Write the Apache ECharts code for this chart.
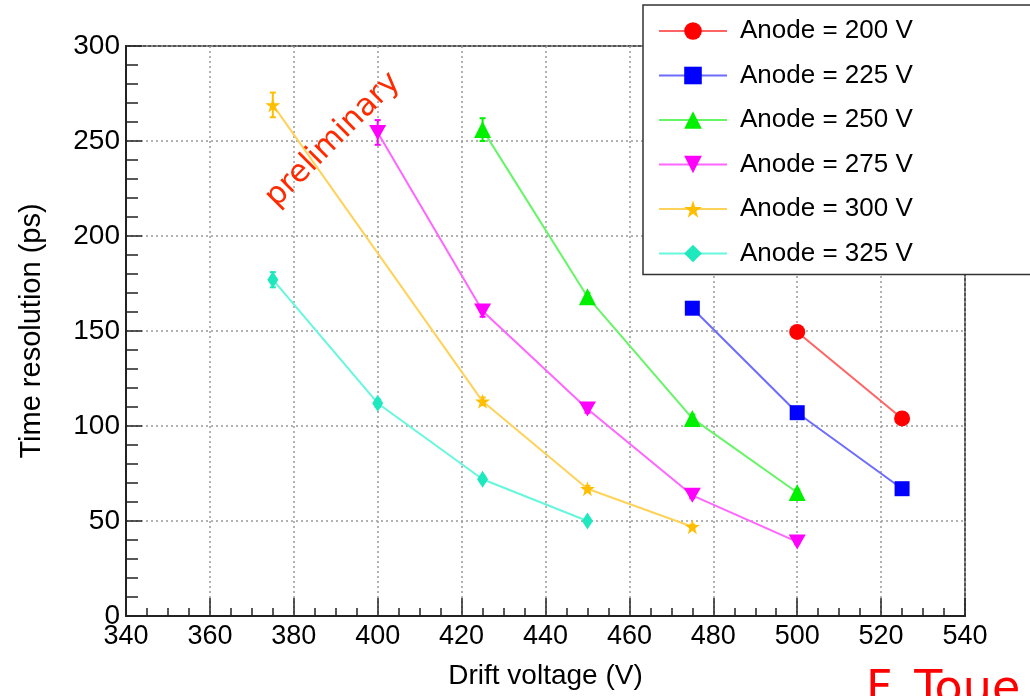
<!DOCTYPE html>
<html>
<head>
<meta charset="utf-8">
<script src="https://cdn.jsdelivr.net/npm/echarts@6/dist/echarts.min.js"></script>
<style>
  html, body { margin: 0; padding: 0; background: #fff; }
  #main { width: 1030px; height: 696px; }
</style>
</head>
<body>
<div id="main"></div>
<script>
// drift voltage (V) / time resolution (ps) / error, one set per anode voltage
let volt200 = [500, 525];
let res200 = [149.5, 104];
let err200 = [1.5, 1.5];

let volt225 = [475, 500, 525];
let res225 = [162, 107, 67];
let err225 = [2, 2, 1.5];

let volt250 = [425, 450, 475, 500];
let res250 = [256, 168, 104, 65];
let err250 = [6, 2, 2, 1.5];

let volt275 = [400, 425, 450, 475, 500];
let res275 = [254.5, 160.5, 109, 63.5, 39];
let err275 = [6.5, 3, 2, 1.5, 1];

let volt300 = [375, 425, 450, 475];
let res300 = [269, 113, 67, 47];
let err300 = [6.5, 2, 1.5, 1];

let volt325 = [375, 400, 425, 450];
let res325 = [177, 112, 72, 50];
let err325 = [4, 2, 1.5, 1];

let xTicks = [340, 360, 380, 400, 420, 440, 460, 480, 500, 520, 540];
let yTicks = [0, 50, 100, 150, 200, 250, 300];

let names = ['Anode = 200 V', 'Anode = 225 V', 'Anode = 250 V', 'Anode = 275 V', 'Anode = 300 V', 'Anode = 325 V'];

let STAR = 'path://M50,0 L61,35 L98,35 L68,57 L79,91 L50,70 L21,91 L32,57 L2,35 L39,35 Z';
let DOWN = 'path://M0,0 L100,0 L50,87 Z';

let sets = [
    {x: volt200, y: res200, e: err200, mark: '#ff0000', line: '#ff6464', symbol: 'circle', size: 16},
    {x: volt225, y: res225, e: err225, mark: '#0000ff', line: '#6c6cff', symbol: 'rect', size: 15},
    {x: volt250, y: res250, e: err250, mark: '#00f000', line: '#66f566', symbol: 'triangle', size: 17},
    {x: volt275, y: res275, e: err275, mark: '#ff00ff', line: '#ff66ff', symbol: DOWN, size: [17, 15]},
    {x: volt300, y: res300, e: err300, mark: '#ffbf00', line: '#ffd25a', symbol: STAR, size: 15},
    {x: volt325, y: res325, e: err325, mark: '#1ee8bd', line: '#66f7dd', symbol: 'diamond', size: [11, 17]}
];

function pairs(xs, ys) {
    let out = [];
    for (let i = 0; i < xs.length; i++) out.push([xs[i], ys[i]]);
    return out;
}

let series = [];
let errData = [];
sets.forEach(function (s, k) {
    for (let i = 0; i < s.x.length; i++) {
        errData.push([s.x[i], s.y[i] - s.e[i], s.y[i] + s.e[i], k]);
    }
});

// error bars under the markers
series.push({
    type: 'custom',
    name: 'errors',
    z: 1,
    silent: true,
    data: errData,
    renderItem: function (params, api) {
        let lo = api.coord([api.value(0), api.value(1)]);
        let hi = api.coord([api.value(0), api.value(2)]);
        let c = sets[api.value(3)].mark;
        let st = {stroke: c, lineWidth: 2};
        return {
            type: 'group',
            children: [
                {type: 'line', shape: {x1: lo[0], y1: lo[1], x2: hi[0], y2: hi[1]}, style: st},
                {type: 'line', shape: {x1: lo[0] - 3, y1: lo[1], x2: lo[0] + 3, y2: lo[1]}, style: st},
                {type: 'line', shape: {x1: hi[0] - 3, y1: hi[1], x2: hi[0] + 3, y2: hi[1]}, style: st}
            ]
        };
    }
});

sets.forEach(function (s, k) {
    series.push({
        name: names[k],
        type: 'line',
        z: 3,
        data: pairs(s.x, s.y),
        symbol: s.symbol,
        symbolSize: s.size,
        showAllSymbol: true,
        lineStyle: {color: s.line, width: 2},
        itemStyle: {color: s.mark, borderWidth: 0},
        emphasis: {disabled: true},
        animation: false
    });
});

let myChart = echarts.init(document.getElementById('main'));

let option = {
    animation: false,
    backgroundColor: '#fff',
    color: sets.map(function (s) { return s.mark; }),
    grid: {
        left: 126,
        right: 65,
        top: 46,
        bottom: 80,
        show: true,
        borderColor: '#555',
        borderWidth: 2,
        backgroundColor: 'transparent'
    },
    legend: {
        data: names,
        orient: 'vertical',
        left: 643,
        top: 5,
        padding: [11, 120, 6, 15],
        itemWidth: 68,
        itemHeight: 22,
        itemGap: 14.5,
        backgroundColor: '#fff',
        borderColor: '#333',
        borderWidth: 1.5,
        selectedMode: false,
        textStyle: {
            fontFamily: 'Liberation Sans',
            fontSize: 26,
            color: '#000',
            lineHeight: 30,
            padding: [0, 0, 0, 8]
        }
    },
    xAxis: {
        type: 'value',
        min: xTicks[0],
        max: xTicks[xTicks.length - 1],
        interval: xTicks[1] - xTicks[0],
        name: 'Drift voltage (V)',
        nameLocation: 'middle',
        nameGap: 46,
        nameTextStyle: {fontFamily: 'Liberation Sans', fontSize: 28, color: '#000'},
        axisLine: {lineStyle: {color: '#222', width: 2}},
        axisTick: {inside: true, length: 18, lineStyle: {color: '#222', width: 1.5}},
        minorTick: {show: true, splitNumber: 4, length: 8, lineStyle: {color: '#222', width: 1.5}},
        axisLabel: {
            margin: 7,
            fontFamily: 'Liberation Sans',
            fontSize: 27,
            color: '#000'
        },
        splitLine: {show: true, lineStyle: {color: '#999', width: 1.5, type: [2, 3]}}
    },
    yAxis: {
        type: 'value',
        min: yTicks[0],
        max: yTicks[yTicks.length - 1],
        interval: yTicks[1] - yTicks[0],
        name: 'Time resolution (ps)',
        nameLocation: 'middle',
        nameGap: 80,
        nameTextStyle: {fontFamily: 'Liberation Sans', fontSize: 29, color: '#000'},
        axisLine: {show: true, lineStyle: {color: '#222', width: 2}},
        axisTick: {show: true, inside: true, length: 16, lineStyle: {color: '#222', width: 1.5}},
        minorTick: {show: true, splitNumber: 5, length: 12, lineStyle: {color: '#222', width: 1.5}},
        axisLabel: {margin: 6, fontFamily: 'Liberation Sans', fontSize: 28, color: '#000'},
        splitLine: {show: true, lineStyle: {color: '#999', width: 1.5, type: [2, 3]}}
    },
    graphic: [
        {
            type: 'text',
            x: 333,
            y: 140,
            rotation: Math.PI / 4,
            z: 10,
            style: {
                text: 'preliminary',
                fill: '#ff2a00',
                font: '31px "DejaVu Sans"',
                align: 'center',
                verticalAlign: 'middle'
            }
        },
        {
            type: 'text',
            left: 866,
            top: 668,
            z: 10,
            style: {
                text: 'F. Toue',
                fill: '#ff0000',
                font: '46px "DejaVu Sans"'
            }
        }
    ],
    series: series
};
myChart.setOption(option);
</script>
</body>
</html>
